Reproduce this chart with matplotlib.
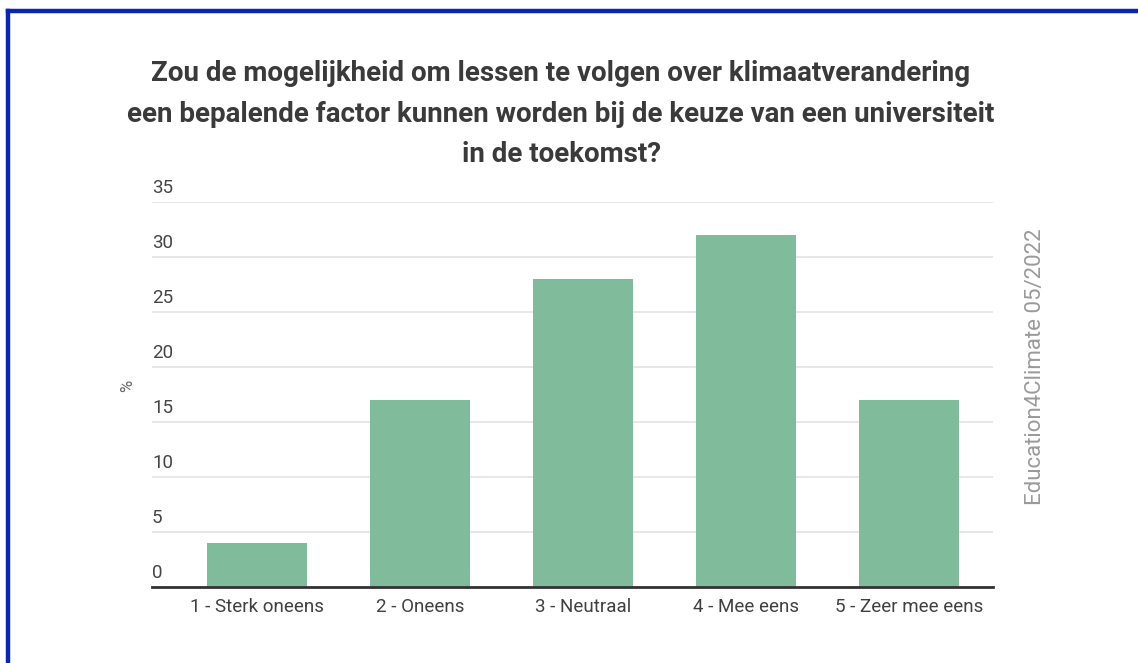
import matplotlib
matplotlib.use("Agg")
import matplotlib.pyplot as plt
import matplotlib.transforms as mtransforms
from matplotlib.lines import Line2D

categories = ["1 - Sterk oneens", "2 - Oneens", "3 - Neutraal", "4 - Mee eens", "5 - Zeer mee eens"]
values = [4, 17, 28, 32, 17]
yticks = [0, 5, 10, 15, 20, 25, 30, 35]
title = ("Zou de mogelijkheid om lessen te volgen over klimaatverandering\n"
         "een bepalende factor kunnen worden bij de keuze van een universiteit\n"
         "in de toekomst?")
watermark = "Education4Climate 05/2022"

plt.rcParams['font.family'] = ['Roboto', 'DejaVu Sans']

fig = plt.figure(figsize=(11.38, 6.63), dpi=100)
fig.patch.set_facecolor("white")

# blue frame (top and left)
fig.add_artist(Line2D([7.5/1138, 7.5/1138], [0, 1 - 10.5/663], color="#0a26b0", lw=3.2,
                      transform=fig.transFigure, solid_capstyle="projecting"))
fig.add_artist(Line2D([7.5/1138, 1], [1 - 10.5/663, 1 - 10.5/663], color="#0a26b0", lw=3.2,
                      transform=fig.transFigure, solid_capstyle="projecting"))

ax = fig.add_axes([152/1138, 1 - 587/663, 841/1138, 385/663])
x = list(range(len(categories)))
ax.bar(x, values, width=0.615, color="#80bb9c", zorder=2)
ax.set_xlim(-0.644, 4.515)
ax.set_ylim(0, 35)

for s in ["top", "right", "left"]:
    ax.spines[s].set_visible(False)
ax.spines["bottom"].set_color("#333333")
ax.spines["bottom"].set_linewidth(2)
ax.spines["bottom"].set_zorder(3)

ax.set_yticks(yticks)
ax.yaxis.grid(True, color="#e3e3e3", lw=1.2, zorder=0)
ax.tick_params(axis="y", length=0, labelleft=False)
ax.set_xticks(x)
ax.set_xticklabels(categories, fontsize=13.5, color="#404040")
ax.tick_params(axis="x", length=0, pad=8)

trans = mtransforms.offset_copy(ax.get_yaxis_transform(), fig=fig, x=0, y=3.5, units="points")
for t in yticks:
    ax.text(0, t, str(t), transform=trans, ha="left", va="bottom", fontsize=13.5, color="#454545")

fig.text(128/1138, 1 - 386/663, "%", rotation=90, ha="center", va="center", fontsize=12, color="#666666")

fig.text(561/1138, 1 - 114/663, title, ha="center", va="center", fontsize=20,
         fontweight="bold", color="#3a3a3a", linespacing=1.62)

fig.text(1035/1138, 1 - 367/663, watermark, rotation=90, ha="center", va="center",
         fontsize=16, color="#9a9a9a")

fig.savefig("out.png", dpi=100, facecolor="white")
